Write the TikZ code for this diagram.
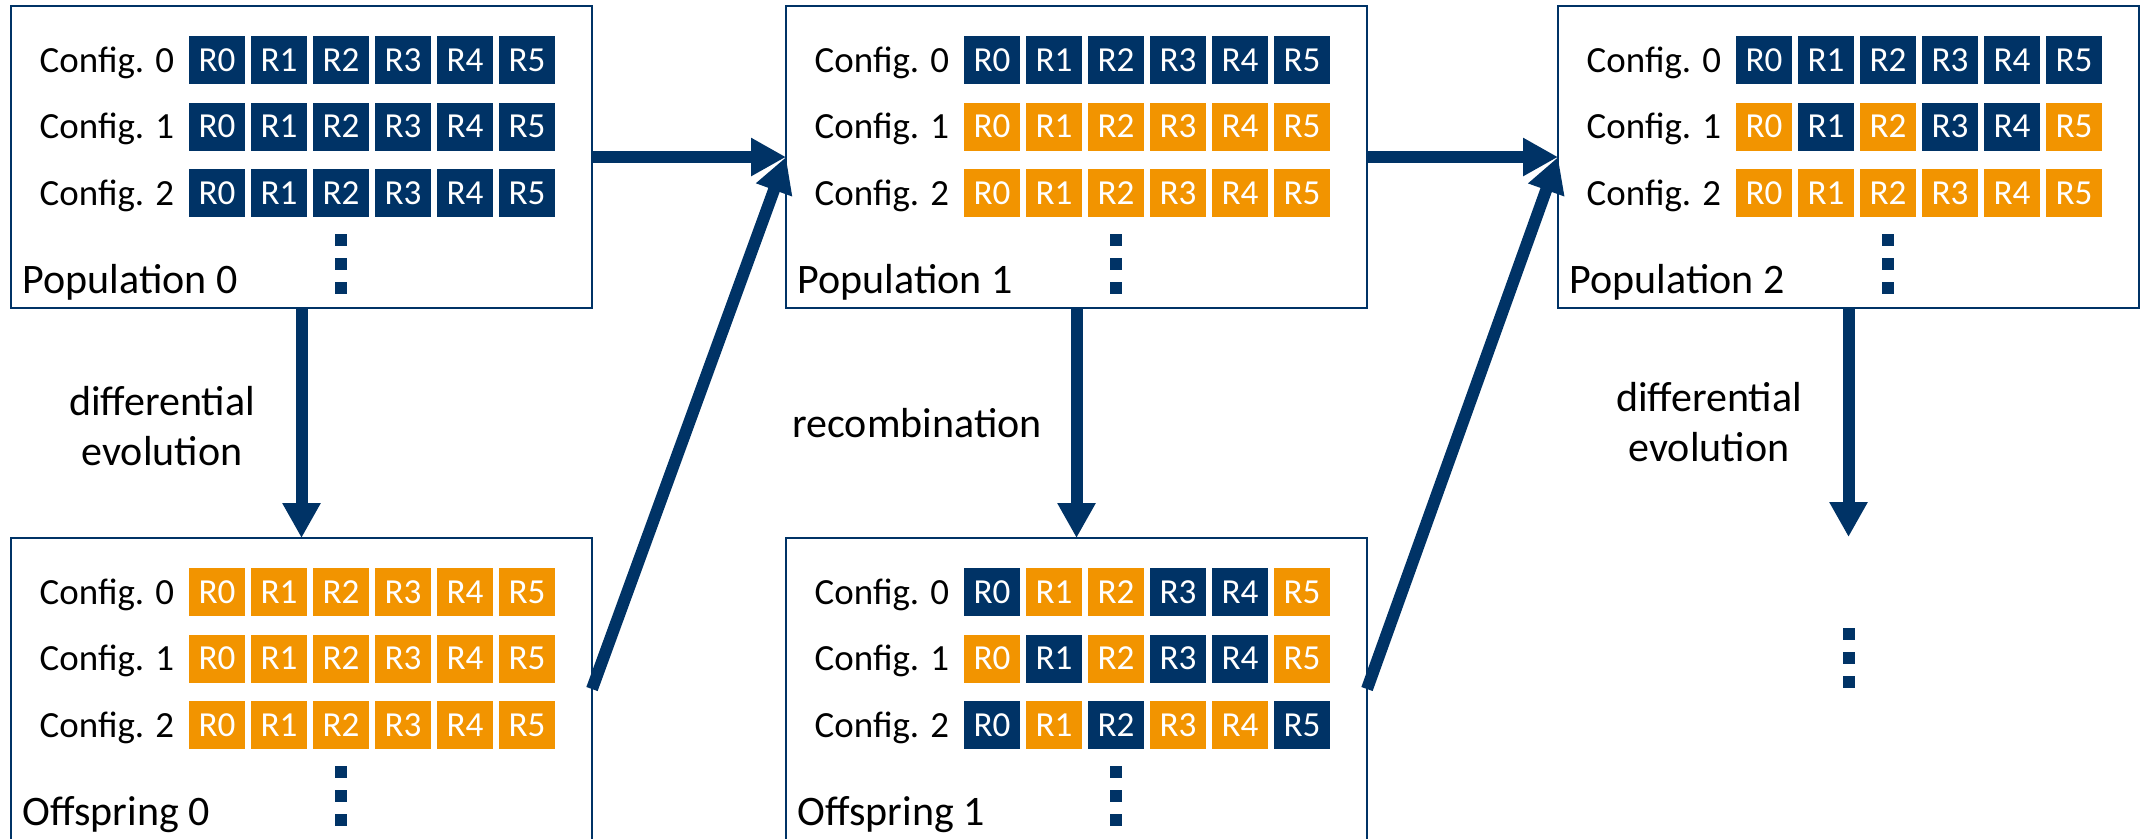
\documentclass[tikz,border=0pt]{standalone}
\usepackage{fontspec}
\setmainfont{Carlito}
\usetikzlibrary{arrows.meta}
\definecolor{N}{RGB}{0,51,102}
\definecolor{O}{RGB}{242,148,0}
% one row: box name, box left, box top, row number, colours of R0..R5
\newcommand{\cfgrow}[5]{%
  \node[cfg] (#1-c#4) at (#2+28,#3+66+66.5*#4) {Config. #4};
  \foreach \c [count=\i from 0] in {#5}
    \node[gene,fill=\c] (#1-c#4-r\i) at (#2+206+62*\i,#3+54+66.5*#4) {R\i};
}
% one box: name, left, top, label, three rows
\newcommand{\genbox}[7]{%
  \node[frame] (#1) at (#2+290.5,#3+151) {};
  \node[boxlbl] (#1-lbl) at (#2+11,#3+287) {#4};
  \cfgrow{#1}{#2}{#3}{0}{#5}
  \cfgrow{#1}{#2}{#3}{1}{#6}
  \cfgrow{#1}{#2}{#3}{2}{#7}
  \foreach \k in {0,1,2}
    \fill[N] (#2+324,#3+228+24*\k) rectangle ++(12,12);
}
\begin{document}
\begin{tikzpicture}[x=0.1mm,y=-0.1mm,
    frame/.style={draw=N,line width=0.25mm,fill=white,minimum width=58.1mm,minimum height=30.2mm,inner sep=0,outer sep=0},
    gene/.style={minimum width=5.6mm,minimum height=4.8mm,inner sep=0,text=white,font=\fontsize{10}{12}\selectfont},
    cfg/.style={anchor=base west,inner sep=0,font=\fontsize{10.5}{12}\selectfont},
    boxlbl/.style={anchor=base west,inner sep=0,font=\fontsize{11.95}{14}\selectfont},
    note/.style={align=center,inner sep=0,anchor=base,font=\fontsize{11.95}{14.2}\selectfont},
    flow/.style={draw=N,line width=1.2mm,-{Triangle[width=3.6mm,length=3.5mm]}}]
\useasboundingbox (0,0) rectangle (2141,838);
\clip (0,0) rectangle (2141,838);
\genbox{pop0}{11}{6}{Population 0}{N,N,N,N,N,N}{N,N,N,N,N,N}{N,N,N,N,N,N}
\genbox{pop1}{786}{6}{Population 1}{N,N,N,N,N,N}{O,O,O,O,O,O}{O,O,O,O,O,O}
\genbox{pop2}{1558}{6}{Population 2}{N,N,N,N,N,N}{O,N,O,N,N,O}{O,O,O,O,O,O}
\genbox{off0}{11}{538}{Offspring 0}{O,O,O,O,O,O}{O,O,O,O,O,O}{O,O,O,O,O,O}
\genbox{off1}{786}{538}{Offspring 1}{N,O,O,N,N,O}{O,N,O,N,N,O}{N,O,N,O,O,N}
\coordinate (next) at (1848.5,537);
\draw[flow] (pop0.east) -- (pop1.west);
\draw[flow] (pop0.south) -- (off0.north);
\draw[flow] (off0.east) -- (pop1.west);
\draw[flow] (pop1.east) -- (pop2.west);
\draw[flow] (pop1.south) -- (off1.north);
\draw[flow] (off1.east) -- (pop2.west);
\draw[flow] (pop2.south) -- (next);
\foreach \k in {0,1,2}
  \fill[N] (1842.5,628+24*\k) rectangle ++(12,12);
\node[note] (de0) at (162,465) {differential\\evolution};
\node[note] (rc1) at (917,437) {recombination};
\node[note] (de1) at (1709,461) {differential\\evolution};
\end{tikzpicture}
\end{document}
